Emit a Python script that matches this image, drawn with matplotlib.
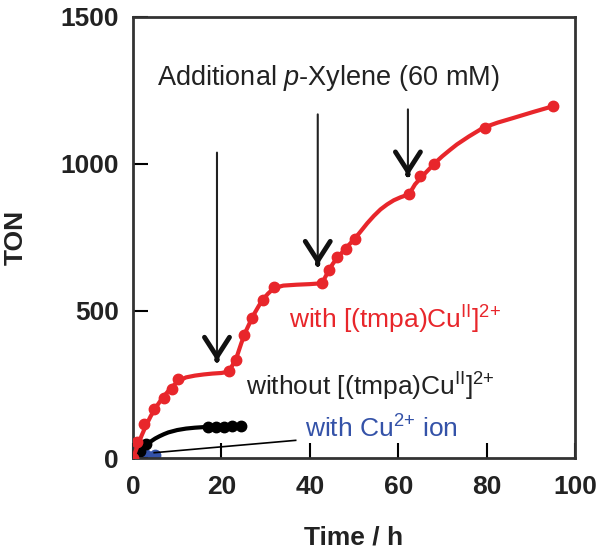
import matplotlib
matplotlib.use("Agg")
import matplotlib.pyplot as plt

plt.rcParams['font.family'] = ['Liberation Sans', 'DejaVu Sans']
plt.rcParams['mathtext.fontset'] = 'custom'
plt.rcParams['mathtext.rm'] = 'Liberation Sans'
plt.rcParams['mathtext.it'] = 'Liberation Sans:italic'
plt.rcParams['mathtext.bf'] = 'Liberation Sans:bold'

# ---- data ----
red_x = [0, 1.0, 2.6, 4.8, 7.1, 8.9, 10.1, 21.7, 23.3, 25.1, 27.0, 29.3, 31.9,
         42.8, 44.3, 46.2, 48.1, 50.3, 62.4, 65.0, 68.0, 79.7, 95.1]
red_y = [0, 53, 115, 165, 205, 233, 267, 295, 334, 419, 475, 537, 582,
         594, 638, 683, 712, 746, 897, 959, 999, 1122, 1196]

red_curve_x = [0, 1, 2, 3, 4, 5, 6, 7, 8, 9, 10, 11, 12, 14, 16, 18, 20, 21.5,
               22.5, 23.5, 24.5, 25.5, 26.5, 27.5, 28.5, 29.5, 30.5, 31.5, 32.5, 34, 37, 40, 42.8,
               43.5, 44.3, 45.2, 46.2, 47.2, 48.1, 49.2, 50.3, 51.5, 53, 54.5, 56, 57.5, 59, 60.5, 62,
               62.8, 63.8, 65.4, 67, 68.4, 70, 71.7, 73.3, 76, 79.3, 82.5, 86.1, 90.5, 95.1]
red_curve_y = [0, 40, 78, 112, 142, 168, 190, 210, 228, 244, 258, 267, 274, 280, 284, 287, 289, 293,
               315, 345, 390, 430, 462, 492, 518, 540, 558, 572, 580, 586, 589, 591, 594,
               615, 638, 660, 680, 697, 712, 730, 748, 770, 798, 823, 845, 862, 876, 886, 894,
               905, 930, 957, 982, 1004, 1026, 1047, 1066, 1093, 1123, 1140, 1156, 1176, 1196]

black_x = [0, 1.5, 3.0, 17.0, 18.7, 20.6, 22.5, 24.4]
black_y = [0, 25, 48, 104, 106, 107, 108, 109]
black_curve_x = [0, 1, 2, 3, 4, 5, 6, 7, 8, 10, 12, 14, 17, 20, 24.4]
black_curve_y = [0, 15, 30, 44, 56, 66, 74, 81, 87, 95, 100, 103, 106, 107, 109]

blue_x = [0, 1.5, 3.0, 5.0]
blue_y = [0, 6, 9, 11]

arrow_x = [19.0, 41.8, 62.2]
arrow_top = [1038, 1168, 1185]
arrow_tip = [329, 655, 959]

pointer_x = [4.8, 36.8]
pointer_y = [18, 60]

RED = '#e8262b'
BLUE = '#3452a8'
DARK = '#222222'

fig = plt.figure(figsize=(6.01, 5.48), dpi=100)
ax = fig.add_axes([133/601, 1 - 458/548, (575-133)/601, (458-16.7)/548])

ax.plot(red_curve_x, red_curve_y, color=RED, lw=3.0, zorder=3, solid_capstyle='round')
ax.plot(red_x, red_y, 'o', color=RED, ms=7.5, zorder=4)
ax.plot(black_curve_x, black_curve_y, color='black', lw=3.0, zorder=2)
ax.plot(black_x, black_y, 'o', color='black', ms=7.5, zorder=2)
ax.plot(blue_x, blue_y, 'o', color=BLUE, ms=7.5, zorder=1)
ax.plot(blue_x, blue_y, color=BLUE, lw=3, zorder=1)
ax.plot(pointer_x, pointer_y, color='black', lw=1.2, zorder=2)

for x, top, tip in zip(arrow_x, arrow_top, arrow_tip):
    ax.annotate('', xy=(x, tip), xytext=(x, top),
                arrowprops=dict(arrowstyle='-', lw=1.5, color=DARK,
                                shrinkA=0, shrinkB=0))
    ax.annotate('', xy=(x, tip), xytext=(x, tip + 5),
                arrowprops=dict(arrowstyle='->, head_length=0.7, head_width=0.45',
                                mutation_scale=20, lw=3.5, color='#111111',
                                shrinkA=0, shrinkB=0))

ax.text(44.2, 1291, r'Additional $\it{p}$-Xylene (60 mM)', fontsize=19.5,
        ha='center', va='center', color=DARK)
ax.text(35.2, 470, r'with [(tmpa)Cu$^{\rm II}$]$^{2{+}}$', fontsize=19,
        ha='left', va='center', color=RED)
ax.text(25.5, 240, r'without [(tmpa)Cu$^{\rm II}$]$^{2{+}}$', fontsize=19,
        ha='left', va='center', color=DARK)
ax.text(39.0, 98, r'with Cu$^{2{+}}$ ion', fontsize=19,
        ha='left', va='center', color=BLUE)

ax.set_xlim(0, 100)
ax.set_ylim(0, 1500)
ax.set_xticks([0, 20, 40, 60, 80, 100])
ax.set_yticks([0, 500, 1000, 1500])
ax.tick_params(direction='in', length=11, width=1.5, labelsize=19)
ax.tick_params(axis='x', pad=12)
ax.tick_params(axis='y', pad=10)
for lab in ax.get_xticklabels() + ax.get_yticklabels():
    lab.set_fontweight('bold')
    lab.set_color(DARK)
for s in ax.spines.values():
    s.set_linewidth(2.0)
    s.set_color('#333333')

ax.set_xlabel('Time / h', fontsize=19, fontweight='bold', labelpad=19, color=DARK)
ax.set_ylabel('TON', fontsize=19, fontweight='bold', labelpad=24, color=DARK)

fig.savefig('out.png', dpi=100)
